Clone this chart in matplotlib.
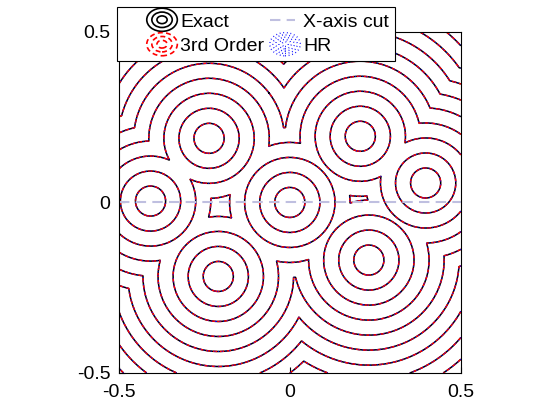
import matplotlib
matplotlib.use("Agg")
import matplotlib.pyplot as plt
import numpy as np
from matplotlib.legend_handler import HandlerBase
from matplotlib.patches import Ellipse
from matplotlib.lines import Line2D

# source points of the distance field
cx = [-0.236, 0.206, -0.407, 0.0, 0.397, -0.209, 0.231]
cy = [0.188, 0.194, 0.004, 0.0, 0.057, -0.217, -0.169]
level_step = 0.044
n_levels = 16
labels = ["Exact", "X-axis cut", "3rd Order", "HR"]

plt.rcParams['font.family'] = ['Liberation Sans', 'DejaVu Sans']

x = np.linspace(-0.5, 0.5, 801)
y = np.linspace(-0.5, 0.5, 801)
X, Y = np.meshgrid(x, y)
D = np.full(X.shape, np.inf)
for a, b in zip(cx, cy):
    D = np.minimum(D, np.hypot(X - a, Y - b))
levels = level_step * np.arange(1, n_levels)

cut_color = (0.75, 0.75, 0.88)

fig = plt.figure(figsize=(5.6, 4.2), dpi=100)
ax = fig.add_axes([0.212, 0.112, 0.611, 0.812])

ax.contour(X, Y, D, levels=levels, colors='k', linewidths=1.1)
cs2 = ax.contour(X, Y, D, levels=levels, colors='r', linewidths=1.0)
cs2.set_linestyle((0, (3, 2)))
cs3 = ax.contour(X, Y, D, levels=levels, colors='b', linewidths=0.8)
cs3.set_linestyle((0, (0.8, 2.5)))
ax.plot([-0.5, 0.5], [0, 0], color=cut_color, lw=1.5, ls=(0, (5, 3)))

ax.set_xlim(-0.5, 0.5)
ax.set_ylim(-0.5, 0.5)
ax.set_xticks([-0.5, 0, 0.5])
ax.set_yticks([-0.5, 0, 0.5])
ax.set_xticklabels(['-0.5', '0', '0.5'])
ax.set_yticklabels(['-0.5', '0', '0.5'])
ax.tick_params(direction='in', labelsize=14, length=4)
ax.tick_params(axis='x', pad=8)
ax.tick_params(axis='y', pad=6)

ICON_W = 22  # points, icon drawn at right end of handle box


class RingHandler(HandlerBase):
    def __init__(self, color, ls, lw, n=3):
        super().__init__()
        self.color, self.ls, self.lw, self.n = color, ls, lw, n

    def create_artists(self, legend, orig, xd, yd, w, h, fontsize, trans):
        arts = []
        cxh = w - xd - ICON_W / 2
        for k in range(self.n):
            s = (k + 1) / self.n
            e = Ellipse((cxh, h / 2 - yd), ICON_W * s, h * 1.7 * s, fill=False,
                        edgecolor=self.color, lw=self.lw, ls=self.ls, transform=trans)
            arts.append(e)
        return arts


class CutHandler(HandlerBase):
    def create_artists(self, legend, orig, xd, yd, w, h, fontsize, trans):
        ln = Line2D([w - xd - ICON_W, w - xd - 4], [h / 2 - yd] * 2, color=cut_color,
                    lw=1.5, ls=(0, (5, 3)), transform=trans)
        return [ln]


h_exact = Line2D([], [], color='k')
h_cut = Line2D([], [], color=cut_color)
h_3rd = Line2D([], [], color='r')
h_hr = Line2D([], [], color='b')
leg = fig.legend([h_exact, h_3rd, h_cut, h_hr], [labels[0], labels[2], labels[1], labels[3]],
                 ncol=2, loc='upper left', bbox_to_anchor=(0.209, 0.983), fontsize=14,
                 frameon=True, fancybox=False, edgecolor='k', framealpha=1,
                 handlelength=2.8, handletextpad=0.15, columnspacing=-0.95,
                 borderpad=0.3, labelspacing=0.35, borderaxespad=0,
                 handler_map={h_exact: RingHandler('k', '-', 1.2),
                              h_3rd: RingHandler('r', (0, (3, 2)), 1.2),
                              h_cut: CutHandler(),
                              h_hr: RingHandler('b', (0, (0.6, 2.0)), 1.0, n=5)})
leg.get_frame().set_linewidth(0.8)

fig.savefig('out.png', dpi=100)
